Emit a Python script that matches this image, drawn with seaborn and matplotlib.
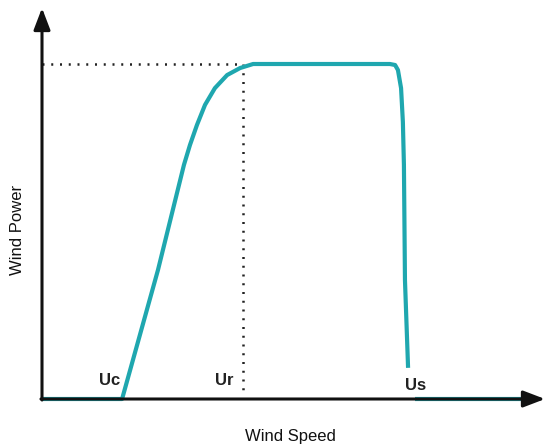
#!/usr/bin/env python3

import pandas as pd
import matplotlib
matplotlib.use('Agg')
import matplotlib.pyplot as plt
import seaborn as sns

# wind speed / normalised power (arbitrary units)
speed_curve = [0.0, 3.08, 4.46, 5.46, 5.69, 5.96, 6.27, 6.65, 7.12, 7.62, 8.12, 8.77,
               13.38, 13.58, 13.69, 13.81, 13.88, 13.92, 13.96, 14.08]
power_curve = [0.0, 0.0, 0.385, 0.699, 0.758, 0.818, 0.878, 0.928, 0.967, 0.988, 1.0, 1.0,
               1.0, 0.997, 0.982, 0.928, 0.827, 0.699, 0.355, 0.093]
speed_cutout = [14.35, 19.0]
power_cutout = [0.0, 0.0]

u_rated = 7.73
rated_power = 1.0
marker_labels = ['Uc', 'Ur', 'Us']
marker_speeds = [2.6, 7.0, 14.35]
marker_powers = [0.055, 0.055, 0.04]

TEAL = '#1FA7AF'


def main():
    sns.set_theme(style='white')
    plt.rcParams['font.family'] = ['Liberation Sans', 'DejaVu Sans']

    fig = plt.figure(figsize=(5.45, 4.47), dpi=100)
    ax = fig.add_axes([0, 0, 1, 1])
    ax.set_xlim(-42 / 26, 503 / 26)
    ax.set_ylim(-48 / 335, 399 / 335)
    ax.axis('off')

    # axes with arrow heads
    arrow = dict(arrowstyle='-|>,head_length=1.1,head_width=0.42', lw=2.2,
                 color='#111111', shrinkA=0, shrinkB=0)
    ax.annotate('', xy=(0, 391 / 335), xytext=(0, -0.003), arrowprops=arrow)
    ax.annotate('', xy=(503 / 26, 0), xytext=(-0.04, 0), arrowprops=arrow)

    # dotted guides for rated power / rated speed
    dots = (0, (0.8, 2.7))
    ax.plot([0, u_rated], [rated_power, rated_power], color='#222222',
            lw=1.8, linestyle=dots)
    ax.plot([u_rated, u_rated], [rated_power, 0.027], color='#222222',
            lw=1.8, linestyle=dots)

    df = pd.concat([
        pd.DataFrame({'speed': speed_curve, 'power': power_curve, 'seg': 0}),
        pd.DataFrame({'speed': speed_cutout, 'power': power_cutout, 'seg': 1}),
    ])
    sns.lineplot(data=df, x='speed', y='power', units='seg', estimator=None,
                 sort=False, color=TEAL, lw=3.0, ax=ax,
                 solid_capstyle='butt', solid_joinstyle='round')

    for lab, xs, ys in zip(marker_labels, marker_speeds, marker_powers):
        ax.text(xs, ys, lab, fontsize=12, fontweight='bold', color='#222222',
                ha='center', va='center')

    ax.text(290 / 545, 1 - 436 / 447, 'Wind Speed', transform=ax.transAxes,
            fontsize=12, color='#111111', ha='center', va='center')
    ax.text(18 / 545, 1 - 230 / 447, 'Wind Power', transform=ax.transAxes,
            fontsize=12, color='#111111', ha='center', va='center', rotation=90)

    fig.savefig('out.png', dpi=100)
    plt.close(fig)


if __name__ == '__main__':
    main()
